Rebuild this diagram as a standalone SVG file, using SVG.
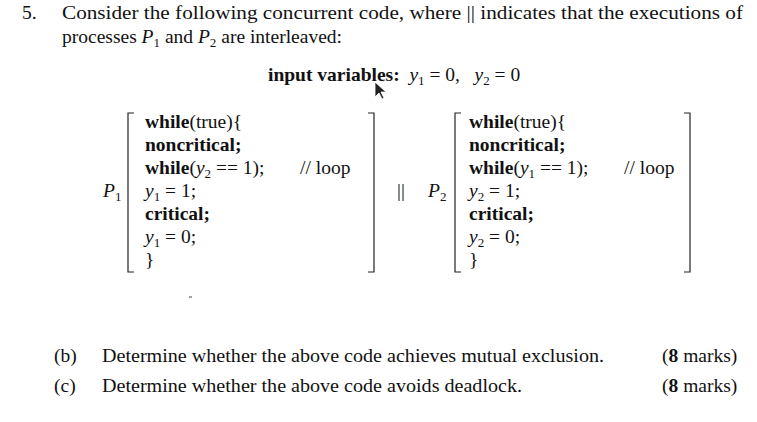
<svg xmlns="http://www.w3.org/2000/svg" width="757" height="422" viewBox="0 0 757 422">
<style>
text{font-family:"Liberation Serif",serif;font-size:19.5px;fill:#111}
.b{font-weight:bold}
.i{font-style:italic}
.s{font-size:13px}
.br{fill:none;stroke:#222;stroke-width:1.2}
</style>
<rect width="757" height="422" fill="#fff"/>
<text x="22" y="19">5.</text>
<text x="62" y="19" textLength="681" lengthAdjust="spacingAndGlyphs">Consider the following concurrent code, where || indicates that the executions of</text>
<text x="62" y="43">processes <tspan class="i">P</tspan><tspan class="s" dy="4">1</tspan><tspan dy="-4"> and </tspan><tspan class="i">P</tspan><tspan class="s" dy="4">2</tspan><tspan dy="-4"> are interleaved:</tspan></text>
<text x="268" y="81" xml:space="preserve"><tspan class="b">input variables:</tspan>  <tspan class="i">y</tspan><tspan class="s" dy="4">1</tspan><tspan dy="-4"> = 0,   </tspan><tspan class="i">y</tspan><tspan class="s" dy="4">2</tspan><tspan dy="-4"> = 0</tspan></text>
<polygon points="375,82 375,97 379,93 382,99 384,98 381,92 386,92" fill="#222" stroke="#fff" stroke-width="0.8"/>
<g id="P1">
<text x="103" y="197" class="i">P</text><text x="115" y="201" class="s">1</text>
<path class="br" d="M134,113 H128 V272 H134 M368,113 H374 V272 H368"/>
<text x="145" y="128"><tspan class="b">while</tspan>(true){</text>
<text x="145" y="151" class="b">noncritical;</text>
<text x="145" y="174"><tspan class="b">while</tspan>(<tspan class="i">y</tspan><tspan class="s" dy="4">2</tspan><tspan dy="-4"> == 1);</tspan></text>
<text x="300" y="174">// loop</text>
<text x="145" y="197"><tspan class="i">y</tspan><tspan class="s" dy="4">1</tspan><tspan dy="-4"> = 1;</tspan></text>
<text x="145" y="220" class="b">critical;</text>
<text x="145" y="243"><tspan class="i">y</tspan><tspan class="s" dy="4">1</tspan><tspan dy="-4"> = 0;</tspan></text>
<text x="145" y="266">}</text>
</g>
<text x="397" y="197">||</text>
<g id="P2">
<text x="428" y="197" class="i">P</text><text x="440" y="201" class="s">2</text>
<path class="br" d="M461,113 H455 V272 H461 M684,113 H690 V272 H684"/>
<text x="469" y="128"><tspan class="b">while</tspan>(true){</text>
<text x="469" y="151" class="b">noncritical;</text>
<text x="469" y="174"><tspan class="b">while</tspan>(<tspan class="i">y</tspan><tspan class="s" dy="4">1</tspan><tspan dy="-4"> == 1);</tspan></text>
<text x="624" y="174">// loop</text>
<text x="469" y="197"><tspan class="i">y</tspan><tspan class="s" dy="4">2</tspan><tspan dy="-4"> = 1;</tspan></text>
<text x="469" y="220" class="b">critical;</text>
<text x="469" y="243"><tspan class="i">y</tspan><tspan class="s" dy="4">2</tspan><tspan dy="-4"> = 0;</tspan></text>
<text x="469" y="266">}</text>
</g>
<line x1="189" y1="297" x2="192" y2="297" stroke="#444" stroke-width="1"/>
<text x="54" y="362">(b)</text>
<text x="102" y="362" textLength="502" lengthAdjust="spacingAndGlyphs">Determine whether the above code achieves mutual exclusion.</text>
<text x="662" y="362">(<tspan class="b">8</tspan> marks)</text>
<text x="54" y="392">(c)</text>
<text x="102" y="392" textLength="420" lengthAdjust="spacingAndGlyphs">Determine whether the above code avoids deadlock.</text>
<text x="662" y="392">(<tspan class="b">8</tspan> marks)</text>
</svg>
